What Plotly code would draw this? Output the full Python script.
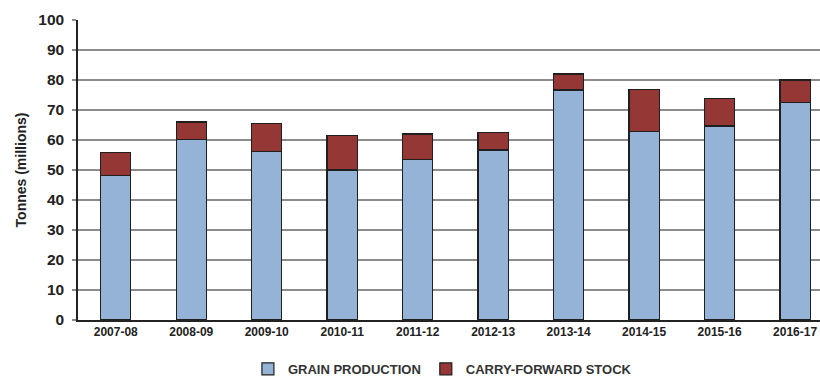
import plotly.graph_objects as go

seasons = ["2007-08", "2008-09", "2009-10", "2010-11", "2011-12",
           "2012-13", "2013-14", "2014-15", "2015-16", "2016-17"]
grain_production = [48.3, 60.1, 56.1, 50.0, 53.6, 56.7, 76.7, 62.9, 64.7, 72.6]
carry_forward_stock = [7.6, 5.9, 9.5, 11.4, 8.4, 5.9, 5.3, 14.0, 9.1, 7.4]

BLUE = "#95B3D7"
RED = "#953735"
FONT = "Liberation Sans, Arial, sans-serif"

fig = go.Figure()
fig.add_trace(go.Bar(
    x=seasons, y=grain_production, name="GRAIN PRODUCTION",
    marker=dict(color=BLUE, line=dict(color="#1f1f1f", width=1.2)),
))
fig.add_trace(go.Bar(
    x=seasons, y=carry_forward_stock, name="CARRY-FORWARD STOCK",
    marker=dict(color=RED, line=dict(color="#1f1f1f", width=1.2)),
))

fig.update_layout(
    width=820, height=379,
    margin=dict(l=77.5, r=0, t=19.5, b=59, pad=0, autoexpand=False),
    barmode="stack", bargap=0.6,
    plot_bgcolor="white", paper_bgcolor="white",
    font=dict(family=FONT, color="#1a1a1a"),
    showlegend=True,
    legend=dict(
        orientation="h", x=0.229, xanchor="left", y=-0.163, yanchor="middle",
        font=dict(size=13, family=FONT, color="#333333", weight="bold"),
        itemwidth=30, traceorder="normal", borderwidth=0,
    ),
    xaxis=dict(
        type="category", range=[-0.5, 9.33], automargin=False,
        showline=True, linecolor="#222222", linewidth=1.5,
        ticks="", showgrid=False,
        tickfont=dict(size=12, family=FONT, color="#222222", weight="bold"),
    ),
    yaxis=dict(
        range=[0, 100], dtick=10, tick0=0, automargin=False,
        showline=True, linecolor="#222222", linewidth=1.5,
        showgrid=True, gridcolor="#8c8c8c", gridwidth=1.5,
        ticks="outside", ticklen=4, tickcolor="#8c8c8c", tickwidth=1.5,
        ticklabelstandoff=5,
        tickfont=dict(size=15.5, family=FONT, color="#222222", weight="bold"),
        title=dict(text="Tonnes (millions)", standoff=8,
                   font=dict(size=14, family=FONT, color="#222222", weight="bold")),
        zeroline=False,
    ),
)

fig.write_html("out.html")
